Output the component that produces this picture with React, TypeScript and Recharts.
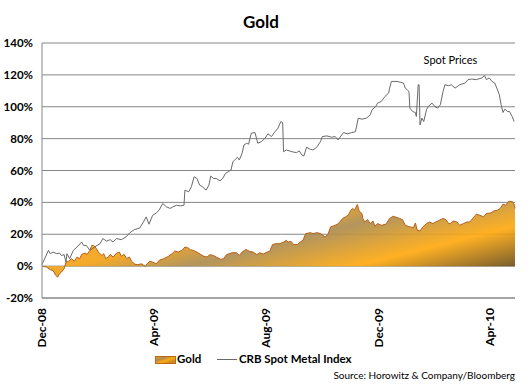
import React from 'react';
import { ComposedChart, Area, Line, XAxis, YAxis, CartesianGrid, ReferenceDot } from 'recharts';

const goldDates = [
  '2008-12-01','2008-12-06','2008-12-10','2008-12-13','2008-12-16','2008-12-18','2008-12-20','2008-12-22','2008-12-25','2008-12-27','2008-12-30',
  '2009-01-02','2009-01-05','2009-01-08','2009-01-11','2009-01-13','2009-01-17','2009-01-19','2009-01-22','2009-01-24','2009-01-26','2009-01-29','2009-01-31',
  '2009-02-04','2009-02-06','2009-02-08','2009-02-11','2009-02-13','2009-02-16','2009-02-20','2009-02-23','2009-02-25','2009-02-28',
  '2009-03-03','2009-03-06','2009-03-08','2009-03-12','2009-03-15','2009-03-19','2009-03-23','2009-03-25','2009-03-28','2009-03-31',
  '2009-04-04','2009-04-07','2009-04-12','2009-04-17','2009-04-21','2009-04-24','2009-04-28',
  '2009-05-02','2009-05-05','2009-05-08','2009-05-11','2009-05-14','2009-05-18','2009-05-22','2009-05-25','2009-05-29',
  '2009-06-01','2009-06-05','2009-06-08','2009-06-13','2009-06-16','2009-06-19','2009-06-25','2009-06-30',
  '2009-07-03','2009-07-06','2009-07-10','2009-07-14','2009-07-18','2009-07-22','2009-07-25','2009-07-29',
  '2009-08-02','2009-08-05','2009-08-08','2009-08-12','2009-08-16','2009-08-20','2009-08-23','2009-08-25','2009-08-28','2009-08-31',
  '2009-09-04','2009-09-07','2009-09-10','2009-09-13','2009-09-18','2009-09-21','2009-09-25','2009-09-29',
  '2009-10-02','2009-10-04','2009-10-07','2009-10-10','2009-10-13','2009-10-17','2009-10-20','2009-10-23','2009-10-26','2009-10-29',
  '2009-11-01','2009-11-03','2009-11-05','2009-11-08','2009-11-10','2009-11-13','2009-11-14','2009-11-16','2009-11-19','2009-11-22','2009-11-25','2009-11-27','2009-11-30',
  '2009-12-04','2009-12-09','2009-12-13','2009-12-17','2009-12-21','2009-12-24','2009-12-27','2009-12-30',
  '2010-01-04','2010-01-08','2010-01-10','2010-01-12','2010-01-15','2010-01-18','2010-01-22','2010-01-25','2010-01-29',
  '2010-02-01','2010-02-05','2010-02-09','2010-02-12','2010-02-15','2010-02-17','2010-02-20','2010-02-24','2010-02-27',
  '2010-03-03','2010-03-07','2010-03-10','2010-03-14','2010-03-17','2010-03-21','2010-03-25','2010-03-28',
  '2010-04-02','2010-04-05','2010-04-09','2010-04-12','2010-04-15','2010-04-18','2010-04-21','2010-04-25','2010-04-27','2010-04-28',
];
const goldValues = [
  0,-0.6,-2.3,-2.7,-5.9,-6.9,-4.8,-3.8,-1.6,2.5,3.1,
  4.7,3.1,5.7,4.7,7.4,8.2,7.4,9.9,13,13,11,8.8,
  6.7,7.8,4.7,5.7,7.4,5.7,8.2,8.8,6.1,7.4,
  4.7,5.7,3.1,1.1,0.9,1.5,-0.2,1.5,3.1,2.5,
  1.5,3.6,4.7,6.1,7.8,9.5,8.8,
  9.9,12,11.6,10.3,9.9,8.8,7.4,6.3,5.7,
  7.2,6.7,5.7,4.2,4.7,7.2,8.4,8.4,
  6.7,8.8,10.5,9.3,8.8,7.2,8.4,7.6,
  8.8,9.3,13.5,14.1,14.1,15.1,16.2,15.1,15.6,13.5,
  13.5,15.1,16.2,20.4,21,20.4,21,20.4,
  19.3,18.3,19.8,24.6,25.2,26.1,27.7,29.9,30.9,31.9,
  35.1,36.2,35.1,38.7,34.5,33,29.9,27.7,29.2,26.7,28.3,25,26.7,
  25.6,26.3,29.9,31.3,30.5,29.9,29.2,25.6,
  24.6,24.2,27.1,22.5,22,24.6,26.7,27.7,26.7,
  27.7,28.8,29.9,29.2,26.7,26.7,28.3,27.7,25.6,
  26.7,27.7,27.7,30.5,32.6,31.9,30.9,33,
  33.4,34.6,35.1,36.2,38.9,38.2,40.6,40.6,38.9,36.2,
];

const crbDates = [
  '2008-12-01','2008-12-08','2008-12-10','2008-12-13','2008-12-17','2008-12-20','2008-12-22','2008-12-25','2008-12-27','2008-12-28','2008-12-31',
  '2009-01-04','2009-01-08','2009-01-13','2009-01-15','2009-01-18','2009-01-22','2009-01-27',
  '2009-02-02','2009-02-05','2009-02-09','2009-02-13','2009-02-16','2009-02-20','2009-02-25',
  '2009-03-02','2009-03-06','2009-03-11','2009-03-17','2009-03-21','2009-03-24','2009-03-27','2009-03-31',
  '2009-04-04','2009-04-07','2009-04-11','2009-04-15','2009-04-19','2009-04-22','2009-04-26','2009-04-30',
  '2009-05-04','2009-05-05','2009-05-09','2009-05-12','2009-05-15','2009-05-18','2009-05-21','2009-05-24','2009-05-28','2009-05-31',
  '2009-06-02','2009-06-05','2009-06-08','2009-06-12','2009-06-15','2009-06-18','2009-06-21','2009-06-24','2009-06-26','2009-06-28',
  '2009-07-01','2009-07-03','2009-07-06','2009-07-08','2009-07-11','2009-07-13','2009-07-16','2009-07-20','2009-07-23','2009-07-27','2009-07-31',
  '2009-08-03','2009-08-07','2009-08-10','2009-08-14','2009-08-17','2009-08-19','2009-08-20','2009-08-23','2009-08-29',
  '2009-09-03','2009-09-06','2009-09-09','2009-09-11','2009-09-14','2009-09-18','2009-09-21','2009-09-25','2009-09-29',
  '2009-10-01','2009-10-06','2009-10-11','2009-10-15','2009-10-18','2009-10-24','2009-10-28',
  '2009-11-02','2009-11-06','2009-11-09','2009-11-13','2009-11-18','2009-11-22','2009-11-24','2009-11-28','2009-11-30',
  '2009-12-04','2009-12-08','2009-12-12','2009-12-13','2009-12-15','2009-12-21','2009-12-25','2009-12-28','2009-12-30',
  '2010-01-01','2010-01-03','2010-01-04','2010-01-07','2010-01-10','2010-01-11','2010-01-13','2010-01-14','2010-01-15','2010-01-17','2010-01-19','2010-01-22','2010-01-24','2010-01-28','2010-01-31',
  '2010-02-03','2010-02-06','2010-02-09','2010-02-11','2010-02-15','2010-02-18','2010-02-22','2010-02-27',
  '2010-03-05','2010-03-08','2010-03-12','2010-03-17','2010-03-23','2010-03-26','2010-03-28','2010-03-31',
  '2010-04-03','2010-04-06','2010-04-09','2010-04-11','2010-04-13','2010-04-15','2010-04-17','2010-04-20','2010-04-22','2010-04-25','2010-04-27',
];
const crbValues = [
  1,9.9,7.8,8.8,7.8,8.2,6.7,7.2,2.5,7.8,4.7,
  9.9,12,15.1,13,13,9.9,12,
  14.1,17.3,15.7,16.6,15.1,17.3,16.6,
  18.3,20.8,22.9,23.9,27.7,30.9,26.3,31.9,
  33.4,35.1,39.3,37.2,36.2,37.2,38.2,37.8,
  38.2,47.7,46.6,49.8,56.1,55,50.8,49.8,47.7,50.8,
  56.5,55,55,53.5,55,58.2,59.2,60.3,65.5,66.6,
  68.3,66.6,70.8,76,77.1,76.5,83.4,83.8,77.1,78.1,80.3,
  83,81.3,83.8,86.6,90.7,90.1,71.8,72.9,71.8,
  71.2,72.3,69.7,69.1,74.6,73.3,72.9,74.6,78.1,
  81.3,81.7,80.9,81.3,79.2,83.8,83,
  83.8,84.4,92.9,92.2,92.9,94.9,98.1,100.2,102.3,
  103.3,106.5,108.6,111.7,115.9,115.9,115.3,114.9,111.7,
  110.7,109.6,99.1,97,96.4,93.9,113.8,113.8,88.6,92.9,90.7,98.1,100.2,102.3,100.2,
  99.1,101.2,109.6,113.8,113.2,113.8,111.7,113.8,
  114.9,117,117.4,117,118.1,119.5,117,118.1,
  115.9,114.9,110.7,107.5,101.2,96.4,98.5,97,97,93.9,90.7,
];

const xTickDates = ['2008-12-01', '2009-04-01', '2009-08-01', '2009-12-01', '2010-04-01'];
const xTickLabels = ['Dec-08', 'Apr-09', 'Aug-09', 'Dec-09', 'Apr-10'];
const yTicks = [-20, 0, 20, 40, 60, 80, 100, 120, 140];
const xDomainDates = ['2008-12-01', '2010-04-28'];
const annotationDate = '2010-02-17';
const annotationValue = 129;
const annotationText = 'Spot Prices';
const seriesNames = ['Gold', 'CRB Spot Metal Index'];
const titleText = 'Gold';
const sourceText = 'Source: Horowitz & Company/Bloomberg';

const toT = (s: string) => {
  const [y, m, d] = s.split('-').map(Number);
  return Date.UTC(y, m - 1, d);
};

const rowsMap = new Map<number, any>();
goldDates.forEach((d, i) => {
  const t = toT(d);
  const r = rowsMap.get(t) || { t };
  r.gold = goldValues[i];
  rowsMap.set(t, r);
});
crbDates.forEach((d, i) => {
  const t = toT(d);
  const r = rowsMap.get(t) || { t };
  r.crb = crbValues[i];
  rowsMap.set(t, r);
});
const tableData = Array.from(rowsMap.values()).sort((a, b) => a.t - b.t);
const xTicks = xTickDates.map(toT);
const labelFor = (v: number) => {
  const i = xTicks.indexOf(v);
  return i >= 0 ? xTickLabels[i] : '';
};

const FONT = 'Lato, "Open Sans", sans-serif';
const GRID = '#868686';

const XTick = (props: any) => {
  const { x, y, payload } = props;
  return (
    <text
      x={x}
      y={y}
      transform={`rotate(-90 ${x} ${y})`}
      textAnchor="end"
      dy="0.35em"
      fontFamily={FONT}
      fontWeight="bold"
      fontSize={12}
      fill="#000"
    >
      {labelFor(payload.value)}
    </text>
  );
};

export default function App() {
  return (
    <div style={{ position: 'absolute', left: 0, top: 0, width: 530, height: 384, background: '#fff' }}>
      <ComposedChart
        width={530}
        height={384}
        data={tableData}
        margin={{ top: 43, right: 15, bottom: 26, left: 0 }}
      >
        <defs>
          <linearGradient id="goldFill" gradientUnits="userSpaceOnUse" x1={0} y1={250} x2={37.6} y2={400.6}>
            <stop offset="0" stopColor="#F8A61C" />
            <stop offset="0.219" stopColor="#F2A218" />
            <stop offset="0.394" stopColor="#AC8C50" />
            <stop offset="0.656" stopColor="#FFAA10" />
            <stop offset="0.91" stopColor="#6A4E1C" />
            <stop offset="1" stopColor="#4A3818" />
          </linearGradient>
        </defs>
        <CartesianGrid vertical={false} stroke={GRID} strokeWidth={1} />
        <XAxis
          dataKey="t"
          type="number"
          domain={[toT(xDomainDates[0]), toT(xDomainDates[1])]}
          ticks={xTicks}
          interval={0}
          tick={<XTick />}
          tickLine={false}
          tickSize={0}
          tickMargin={10}
          height={60}
          axisLine={{ stroke: GRID }}
        />
        <YAxis
          type="number"
          domain={[-20, 140]}
          ticks={yTicks}
          interval={0}
          width={42}
          tickFormatter={(v: number) => `${v}%`}
          tickLine={false}
          tickSize={0}
          tickMargin={9}
          axisLine={{ stroke: GRID }}
          tick={{ fontFamily: FONT, fontWeight: 'bold', fontSize: 11.5, fill: '#000' }}
        />
        <Area
          type="linear"
          dataKey="gold"
          name={seriesNames[0]}
          baseValue={0}
          connectNulls
          fill="url(#goldFill)"
          fillOpacity={0.92}
          stroke="#B8601A"
          strokeWidth={1}
          dot={false}
          activeDot={false}
          isAnimationActive={false}
        />
        <Line
          type="linear"
          dataKey="crb"
          name={seriesNames[1]}
          connectNulls
          stroke="#6a6a6a"
          strokeWidth={1}
          dot={false}
          activeDot={false}
          isAnimationActive={false}
        />
        <ReferenceDot
          x={toT(annotationDate)}
          y={annotationValue}
          r={0}
          fill="none"
          stroke="none"
          label={{ value: annotationText, position: 'center', fontFamily: FONT, fontSize: 11, fill: '#000' }}
        />
      </ComposedChart>
      <svg width={530} height={384} style={{ position: 'absolute', left: 0, top: 0, pointerEvents: 'none' }}>
        <defs>
          <linearGradient id="legendGold" x1="0" y1="0" x2="1" y2="1">
            <stop offset="0" stopColor="#F6A41A" />
            <stop offset="0.3" stopColor="#AC8C50" />
            <stop offset="0.55" stopColor="#FFA90E" />
            <stop offset="0.8" stopColor="#C08A2A" />
            <stop offset="1" stopColor="#F0A016" />
          </linearGradient>
        </defs>
        <text x={261} y={28} textAnchor="middle" fontFamily={FONT} fontWeight="bold" fontSize={17} fill="#000">
          {titleText}
        </text>
        <rect x={155.5} y={356.5} width={20} height={7} fill="url(#legendGold)" stroke="#C0651A" strokeWidth={1} />
        <text x={177} y={363} fontFamily={FONT} fontWeight="bold" fontSize={11.5} fill="#000">
          {seriesNames[0]}
        </text>
        <line x1={217} y1={359.5} x2={237} y2={359.5} stroke="#6a6a6a" strokeWidth={1} />
        <text x={239} y={363} fontFamily={FONT} fontWeight="bold" fontSize={11.5} fill="#000">
          {seriesNames[1]}
        </text>
        <text x={515} y={378.5} textAnchor="end" fontFamily={FONT} fontSize={10} fill="#000">
          {sourceText}
        </text>
      </svg>
    </div>
  );
}
